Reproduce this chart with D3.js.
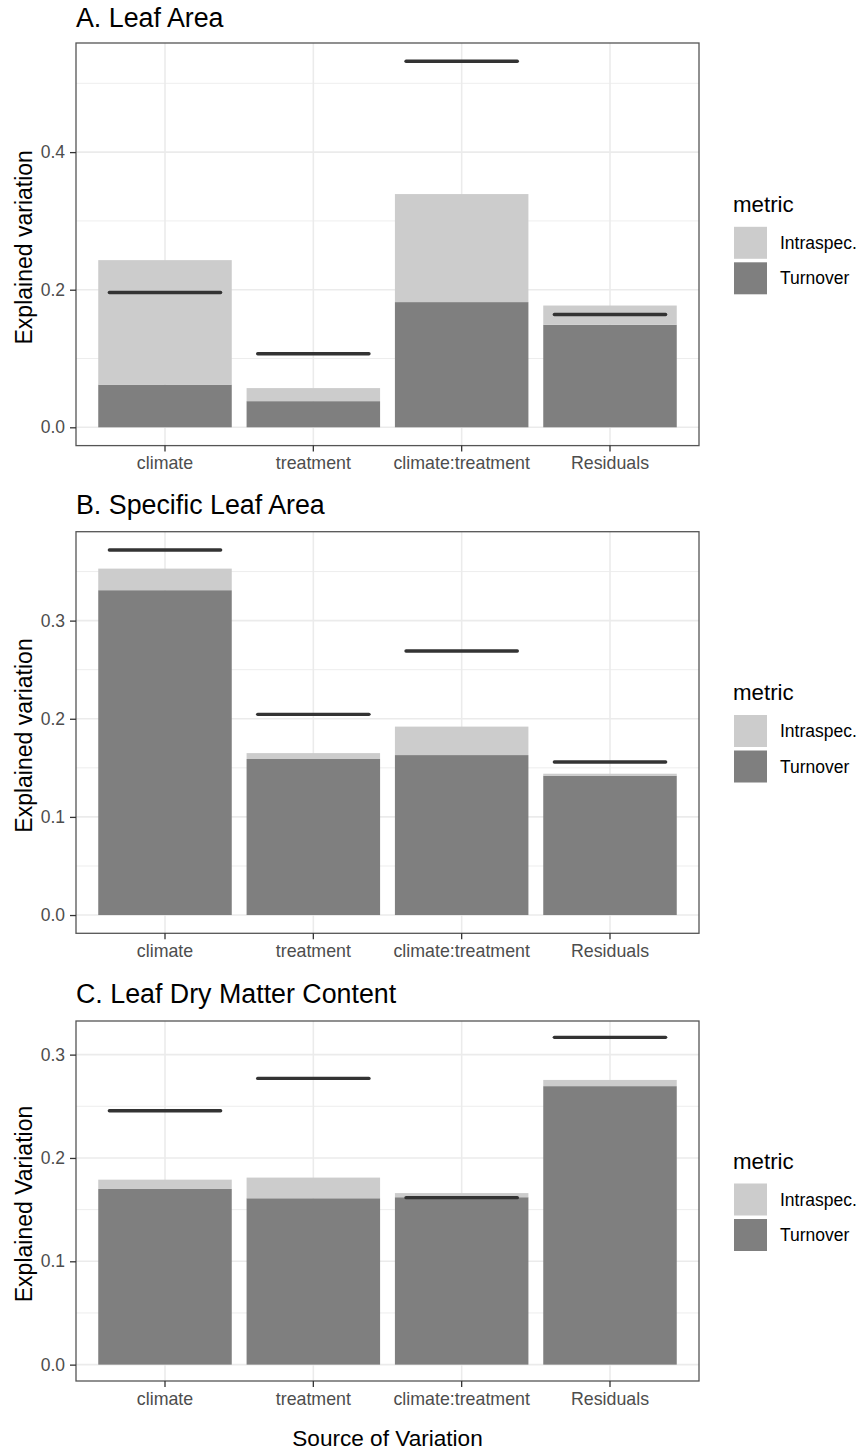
<!DOCTYPE html>
<html>
<head>
<meta charset="utf-8">
<script src="https://cdn.jsdelivr.net/npm/d3@7"></script>
<style>
  html, body { margin: 0; padding: 0; background: #fff; }
  svg { display: block; font-family: "Liberation Sans", Arial, Helvetica, sans-serif; }
</style>
</head>
<body>
<svg id="chart" width="860" height="1452"></svg>
<script>
// ---------------- data ----------------
const categories = ["climate", "treatment", "climate:treatment", "Residuals"];
const metrics = ["Intraspec.", "Turnover"];

// Panel A: Leaf Area
const leafAreaTurnover  = [0.062, 0.038, 0.182, 0.149];
const leafAreaIntraspec = [0.181, 0.019, 0.157, 0.028];
const leafAreaTotal     = [0.196, 0.107, 0.532, 0.164];

// Panel B: Specific Leaf Area
const slaTurnover  = [0.331, 0.159, 0.163, 0.142];
const slaIntraspec = [0.022, 0.006, 0.029, 0.002];
const slaTotal     = [0.372, 0.2045, 0.269, 0.156];

// Panel C: Leaf Dry Matter Content
const ldmcTurnover  = [0.170, 0.161, 0.162, 0.2695];
const ldmcIntraspec = [0.009, 0.020, 0.004, 0.006];
const ldmcTotal     = [0.2457, 0.277, 0.1616, 0.3167];

const ticksA = [0.0, 0.2, 0.4];
const ticksB = [0.0, 0.1, 0.2, 0.3];
const ticksC = [0.0, 0.1, 0.2, 0.3];

const panels = [
  { title: "A. Leaf Area", ylab: "Explained variation", turnover: leafAreaTurnover, intraspec: leafAreaIntraspec, total: leafAreaTotal, ticks: ticksA, top: 43, bottom: 445.6, titleY: 27 },
  { title: "B. Specific Leaf Area", ylab: "Explained variation", turnover: slaTurnover, intraspec: slaIntraspec, total: slaTotal, ticks: ticksB, top: 531.7, bottom: 933.3, titleY: 514 },
  { title: "C. Leaf Dry Matter Content", ylab: "Explained Variation", turnover: ldmcTurnover, intraspec: ldmcIntraspec, total: ldmcTotal, ticks: ticksC, top: 1021, bottom: 1381, titleY: 1003 }
];

// ---------------- style ----------------
const colIntra = "#CCCCCC", colTurn = "#7F7F7F", colLine = "#333333";
const grid = "#EBEBEB";
const left = 76, right = 699;

const svg = d3.select("#chart");

const x = d3.scaleBand().domain(categories).range([left, right]).paddingInner(0.1).paddingOuter(0.15);
const step = x.step();

panels.forEach(p => {
  const maxV = d3.max(categories.map((c, i) => Math.max(p.total[i], p.turnover[i] + p.intraspec[i])));
  const y = d3.scaleLinear().domain([-0.05 * maxV, maxV * 1.05]).range([p.bottom, p.top]);
  const g = svg.append("g");

  // minor grid
  const majors = p.ticks;
  const dt = majors[1] - majors[0];
  const minors = [];
  for (let v = majors[0] - dt / 2; v <= y.domain()[1]; v += dt) {
    if (v >= y.domain()[0]) minors.push(v);
  }
  g.selectAll(".minor").data(minors).join("line")
    .attr("x1", left).attr("x2", right)
    .attr("y1", d => y(d)).attr("y2", d => y(d))
    .attr("stroke", grid).attr("stroke-width", 0.9);
  g.selectAll(".major").data(majors).join("line")
    .attr("x1", left).attr("x2", right)
    .attr("y1", d => y(d)).attr("y2", d => y(d))
    .attr("stroke", grid).attr("stroke-width", 1.6);
  g.selectAll(".vgrid").data(categories).join("line")
    .attr("x1", d => x(d) + x.bandwidth() / 2).attr("x2", d => x(d) + x.bandwidth() / 2)
    .attr("y1", p.top).attr("y2", p.bottom)
    .attr("stroke", grid).attr("stroke-width", 1.6);

  // stacked bars
  const rows = categories.map((c, i) => ({ cat: c, turnover: p.turnover[i], intraspec: p.intraspec[i] }));
  const stack = d3.stack().keys(["turnover", "intraspec"])(rows);
  const colors = { turnover: colTurn, intraspec: colIntra };
  stack.forEach(layer => {
    g.selectAll(null).data(layer).join("rect")
      .attr("x", d => x(d.data.cat))
      .attr("width", x.bandwidth())
      .attr("y", d => y(d[1]))
      .attr("height", d => y(d[0]) - y(d[1]))
      .attr("fill", colors[layer.key]);
  });

  // total lines
  g.selectAll(".tot").data(categories).join("line")
    .attr("x1", (d) => x(d) + x.bandwidth() / 2 - 0.375 * step)
    .attr("x2", (d) => x(d) + x.bandwidth() / 2 + 0.375 * step)
    .attr("y1", (d, i) => y(p.total[i])).attr("y2", (d, i) => y(p.total[i]))
    .attr("stroke", colLine).attr("stroke-width", 3.4).attr("stroke-linecap", "round");

  // border
  g.append("rect").attr("x", left).attr("y", p.top)
    .attr("width", right - left).attr("height", p.bottom - p.top)
    .attr("fill", "none").attr("stroke", "#555555").attr("stroke-width", 1.3);

  // y axis
  const yAxis = d3.axisLeft(y).tickValues(p.ticks).tickFormat(d3.format(".1f")).tickSizeOuter(0).tickSize(6).tickPadding(5);
  const ya = g.append("g").attr("transform", `translate(${left},0)`).call(yAxis);
  ya.select(".domain").remove();
  ya.selectAll(".tick line").attr("stroke", "#333333").attr("stroke-width", 1.3);
  ya.selectAll(".tick text").attr("fill", "#4D4D4D").style("font-size", "17.5px").attr("font-family", null);

  // x axis
  const xAxis = d3.axisBottom(x).tickSize(6).tickPadding(5).tickSizeOuter(0);
  const xa = g.append("g").attr("transform", `translate(0,${p.bottom})`).call(xAxis);
  xa.select(".domain").remove();
  xa.selectAll(".tick line").attr("stroke", "#333333").attr("stroke-width", 1.3);
  xa.selectAll(".tick text").attr("fill", "#4D4D4D").style("font-size", "17.8px").attr("font-family", null);

  // title
  g.append("text").attr("x", left).attr("y", p.titleY).text(p.title)
    .style("font-size", "26.8px").attr("fill", "#000");

  // y label
  const cy = (p.top + p.bottom) / 2;
  g.append("text").attr("transform", `translate(31.5,${cy + 3}) rotate(-90)`)
    .attr("text-anchor", "middle").text(p.ylab)
    .style("font-size", "23px").attr("fill", "#000");

  // legend
  const b1 = cy - 17.5;
  g.append("text").attr("x", 733).attr("y", b1 - 15).text("metric")
    .style("font-size", "22.3px").attr("fill", "#000");
  const legCols = [colIntra, colTurn];
  metrics.forEach((m, i) => {
    const by = b1 + i * 35.5;
    g.append("rect").attr("x", 734).attr("y", by).attr("width", 33).attr("height", 32).attr("fill", legCols[i]);
    g.append("text").attr("x", 780).attr("y", by + 16).attr("dy", "0.35em").text(m)
      .style("font-size", "17.5px").attr("fill", "#000");
  });
});

// x-axis title
svg.append("text").attr("x", (left + right) / 2).attr("y", 1446).attr("text-anchor", "middle")
  .text("Source of Variation").style("font-size", "22.6px").attr("fill", "#000");
</script>
</body>
</html>
